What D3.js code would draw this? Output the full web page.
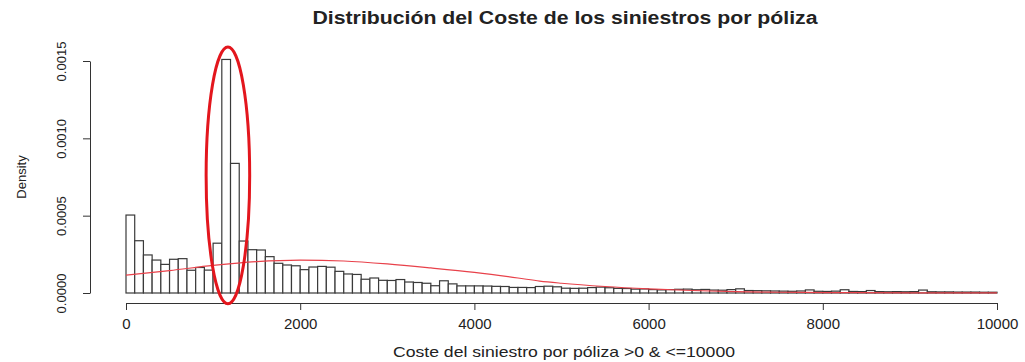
<!DOCTYPE html>
<html lang="es">
<head>
    <meta charset="UTF-8">
    <title>Distribución del Coste de los siniestros por póliza</title>
    <style>
        body {
            margin: 0;
            padding: 0;
            background: #fff;
            overflow: hidden;
        }

        svg text {
            font-family: "Liberation Sans", Arial, sans-serif;
            fill: #222;
        }

        .bar {
            fill: #fff;
            stroke: #3a3a3a;
            stroke-width: 1.2px;
        }

        .axis path,
        .axis line {
            stroke: #333;
            stroke-width: 1px;
        }

        .axis text {
            font-size: 15px;
        }

        .axis.y text {
            font-size: 13px;
        }
    </style>
</head>
<body>
    <script src="https://d3js.org/d3.v7.min.js"></script>
    <script>
        // histograma: clases de 100 entre 0 y 10000 (densidad)
        const binWidth = 100;
        const densities = [
            0.000504, 0.000338, 0.000246, 0.000213, 0.000185, 0.000218, 0.000222, 0.000147, 0.000165, 0.000148,
            0.000322, 0.001510, 0.000838, 0.000336, 0.000280, 0.000278, 0.000235, 0.000192, 0.000181, 0.000176,
            0.000151, 0.000168, 0.000172, 0.000167, 0.000140, 0.000123, 0.000120, 0.000089, 0.000097, 0.000082,
            0.000081, 0.000087, 0.000071, 0.000068, 0.000063, 0.000047, 0.000079, 0.000059, 0.000046, 0.000046,
            0.000046, 0.000045, 0.000043, 0.000042, 0.000036, 0.000036, 0.000035, 0.000042, 0.000044, 0.000040,
            0.000031, 0.000030, 0.000031, 0.000035, 0.000038, 0.000034, 0.000030, 0.000029, 0.000025, 0.000026,
            0.000022, 0.000020, 0.000022, 0.000024, 0.000025, 0.000021, 0.000023, 0.000019, 0.000018, 0.000022,
            0.000027, 0.000016, 0.000015, 0.000014, 0.000013, 0.000012, 0.000011, 0.000013, 0.000020, 0.000011,
            0.000010, 0.000012, 0.000021, 0.000010, 0.000009, 0.000016, 0.000009, 0.000008, 0.000009, 0.000008,
            0.000009, 0.000019, 0.000008, 0.000007, 0.000007, 0.000006, 0.000006, 0.000006, 0.000005, 0.000005
        ];

        // curva roja ajustada
        const curveX = [0, 500, 1000, 1500, 2000, 2500, 3000, 3500, 4000, 4500, 4750, 5000, 5500, 6000, 6500, 7000, 7500, 8000, 9000, 10000];
        const curveY = [0.000116, 0.000145, 0.000178, 0.000203, 0.000213, 0.000207, 0.000188, 0.000162, 0.000133, 0.000097, 0.000077, 0.000063, 0.000042, 0.000027, 0.000016, 0.000009, 0.000005, 0.000003, 0.000001, 0.0000003];

        const xTicks = [0, 2000, 4000, 6000, 8000, 10000];
        const yTicks = [0, 0.0005, 0.0010, 0.0015];

        const title = "Distribución del Coste de los siniestros por póliza";
        const xLabel = "Coste del siniestro por póliza >0 & <=10000";
        const yLabel = "Density";

        // zona resaltada (valor central y rango en densidad)
        const highlight = { center: 1170, halfWidth: 250, top: 0.00159, bottom: -0.00007 };

        const width = 1025;
        const height = 362;

        const x = d3.scaleLinear().domain([0, 10000]).range([126, 997]);
        const y = d3.scaleLinear().domain([0, 0.0015]).range([293, 61]);

        const svg = d3.select("body").append("svg")
            .attr("width", width)
            .attr("height", height);

        const bins = densities.map((d, i) => ({ x0: i * binWidth, x1: (i + 1) * binWidth, value: d }));

        svg.append("g")
            .selectAll("rect")
            .data(bins)
            .enter().append("rect")
            .attr("class", "bar")
            .attr("x", d => x(d.x0))
            .attr("width", d => x(d.x1) - x(d.x0))
            .attr("y", d => y(d.value))
            .attr("height", d => y(0) - y(d.value));

        const line = d3.line()
            .x(d => x(d[0]))
            .y(d => y(d[1]))
            .curve(d3.curveMonotoneX);

        svg.append("path")
            .datum(curveX.map((v, i) => [v, curveY[i]]))
            .attr("fill", "none")
            .attr("stroke", "#e8414a")
            .attr("stroke-width", 1.2)
            .attr("d", line);

        // ejes estilo R
        svg.append("g")
            .attr("class", "axis x")
            .attr("transform", "translate(0,303)")
            .call(d3.axisBottom(x).tickValues(xTicks).tickSize(7).tickSizeOuter(0).tickPadding(8).tickFormat(d3.format("d")));

        const yAxis = svg.append("g")
            .attr("class", "axis y")
            .attr("transform", "translate(90,0)")
            .call(d3.axisLeft(y).tickValues(yTicks).tickSize(7).tickSizeOuter(0).tickFormat(d3.format(".4f")));

        yAxis.selectAll(".tick text")
            .attr("x", 0)
            .attr("y", 0)
            .attr("dy", "0.35em")
            .attr("text-anchor", "middle")
            .attr("transform", "translate(-29,0) rotate(-90)");

        svg.append("text")
            .attr("x", 565)
            .attr("y", 24)
            .attr("text-anchor", "middle")
            .attr("textLength", 505)
            .attr("lengthAdjust", "spacingAndGlyphs")
            .style("font-size", "18px")
            .style("font-weight", "bold")
            .text(title);

        svg.append("text")
            .attr("x", 564)
            .attr("y", 357)
            .attr("text-anchor", "middle")
            .attr("textLength", 342)
            .attr("lengthAdjust", "spacingAndGlyphs")
            .style("font-size", "15px")
            .text(xLabel);

        svg.append("text")
            .attr("transform", `translate(26,${(y(0) + y(0.0015)) / 2}) rotate(-90)`)
            .attr("text-anchor", "middle")
            .style("font-size", "13px")
            .text(yLabel);

        svg.append("ellipse")
            .attr("cx", x(highlight.center))
            .attr("cy", (y(highlight.top) + y(highlight.bottom)) / 2)
            .attr("rx", x(highlight.halfWidth) - x(0))
            .attr("ry", (y(highlight.bottom) - y(highlight.top)) / 2)
            .attr("fill", "none")
            .attr("stroke", "#e3161d")
            .attr("stroke-width", 3);
    </script>
</body>
</html>
